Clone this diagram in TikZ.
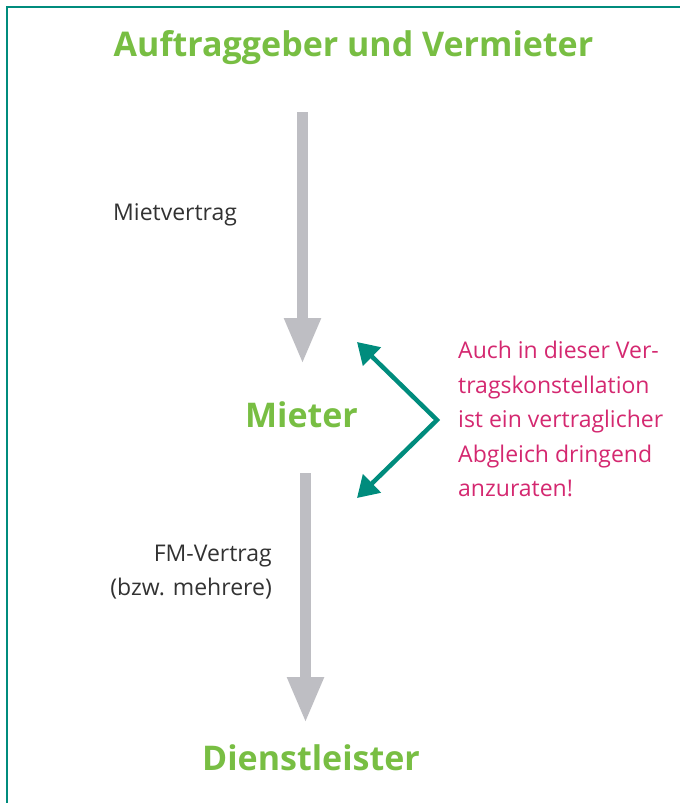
\documentclass[tikz,border=0pt]{standalone}
\usepackage{fontspec}
\setmainfont{Open Sans}
\usepackage{tikz}
\usetikzlibrary{arrows.meta,positioning}
\definecolor{rahmen}{RGB}{0,140,125}
\definecolor{gruen}{RGB}{120,190,67}
\definecolor{pink}{RGB}{212,40,112}
\definecolor{grau}{RGB}{190,190,195}
\definecolor{schrift}{RGB}{50,50,50}

\begin{document}
\begin{tikzpicture}[x=1pt,y=-1pt,
  partei/.style={inner sep=0pt,text=gruen,font=\fontsize{34}{40}\selectfont\bfseries},
  vertrag/.style={inner sep=0pt,text=schrift,font=\fontsize{23}{34}\selectfont},
  hinweis/.style={inner sep=0pt,text=pink,align=left,font=\fontsize{23}{34.5}\selectfont},
  pfeil/.style={draw=grau,line width=11pt,-{Triangle[width=34pt,length=46pt]}},
  abgleich/.style={draw=rahmen,line width=4.5pt,line join=miter,{Triangle[width=25pt,length=21pt]}-{Triangle[width=25pt,length=21pt]}}]
\useasboundingbox (0,0) rectangle (680,803);
\draw[rahmen,line width=2.5pt] (7,803) -- (7,7) -- (680,7);
% Parteien
\node[partei] (auftrag) at (353.5,48) {Auftraggeber und Vermieter};
\node[partei] (mieter) at (301.5,415) {Mieter};
\node[partei] (dienst) at (311,758) {Dienstleister};
% Vertraege
\node[vertrag,anchor=west] (miet) at (113,215) {Mietvertrag};
\node[vertrag,anchor=east,align=right] (fm) at (272,572) {FM-Vertrag\\(bzw. mehrere)};
\coordinate (p1a) at (302.5,112);
\coordinate (p1b) at (302.5,364);
\coordinate (p2a) at (305.5,473);
\coordinate (p2b) at (305.5,723);
\draw[pfeil] (p1a) -- (p1b);
\draw[pfeil] (p2a) -- (p2b);
% Hinweis
\node[hinweis,anchor=west] (text) at (458,419) {Auch in dieser Ver-\\tragskonstellation\\ist ein vertraglicher\\Abgleich dringend\\anzuraten!};
\coordinate (oben) at (357,342);
\coordinate (spitze) at (437,420);
\coordinate (unten) at (357,498);
\draw[abgleich] (oben) -- (spitze) -- (unten);
\end{tikzpicture}
\end{document}
